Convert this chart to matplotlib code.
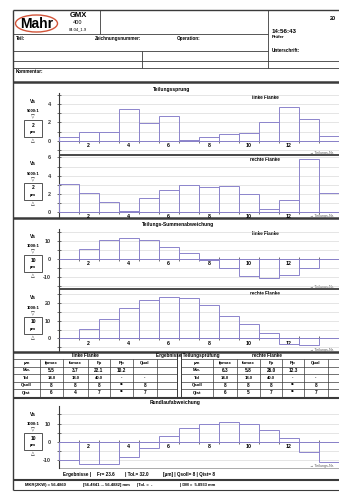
import numpy as np
import matplotlib
matplotlib.use("Agg")
import matplotlib.pyplot as plt
from matplotlib.patches import Ellipse, Rectangle
from matplotlib.ticker import MultipleLocator

plt.rcParams['font.family'] = ['Liberation Sans', 'DejaVu Sans']
plt.rcParams['axes.unicode_minus'] = False

# ---------------------------------------------------------------- data
teeth = np.arange(1, 15)
# Teilungssprung fu [um]
jump_left = [0.4, 0.9, 0.9, 3.5, 1.9, 2.7, 0.1, 0.45, 0.7, 0.8, 2.0, 3.65, 2.35, 0.55]
jump_right = [3.1, 2.1, 1.1, 0.15, 1.6, 2.45, 3.0, 2.75, 2.9, 1.95, 0.35, 1.35, 5.8, 2.1]
# Teilungs-Summenabweichung [um]
cum_left = [0, 5.4, 10.5, 11.5, 10.5, 6.8, 3.5, -0.5, -5.2, -9.4, -10.7, -8.9, -5.2, 0]
cum_right = [0, 5.1, 11.1, 16.9, 21.5, 23.4, 22.5, 18.7, 12.5, 7.9, 3.0, -3.0, -3.5, 0]
# Rundlaufabweichung [um]
runout = [-10, -12.4, -12, -8.5, -3.3, 3.1, 7.3, 10, 10.9, 9.5, 6.7, 1.8, -5.5, -11]

tab_cols = ["µm", "fpmax", "fumax", "Fp", "Rp", "Qual"]
tab_rows = ["Mw.", "Tol", "Qsoll", "Qist"]
left_vals = [["5.5", "3.7", "22.1", "10.2", ""],
             ["14.0", "18.0", "40.0", "-", "-"],
             ["8", "8", "8", "**", "8"],
             ["6", "4", "7", "**", "7"]]
right_vals = [["6.3", "5.8", "26.0", "12.3", ""],
              ["14.0", "18.0", "40.0", "-", "-"],
              ["8", "8", "8", "**", "8"],
              ["6", "5", "7", "**", "7"]]

# ---------------------------------------------------------------- page
W, H = 339, 498
PURPLE = '#8c84cc'
GRID = '#d2d2d2'
DARK = '#3a3a3a'

fig = plt.figure(figsize=(W / 100, H / 100), dpi=100)
bg = fig.add_axes([0, 0, 1, 1])
bg.set_xlim(0, W)
bg.set_ylim(H, 0)
bg.axis('off')


def hline(y, x0=13, x1=W, lw=0.6, c=DARK):
    bg.plot([x0, x1], [y, y], color=c, lw=lw, solid_capstyle='butt')


def vline(x, y0, y1, lw=0.6, c=DARK):
    bg.plot([x, x], [y0, y1], color=c, lw=lw, solid_capstyle='butt')


def txt(x, y, s, size=3.3, ha='left', weight='bold', **kw):
    bg.text(x, y, s, fontsize=size, ha=ha, va='center', fontweight=weight, **kw)


# header block
hline(10, lw=1.0)
vline(13, 10, 490, lw=1.0)
vline(100, 10, 34)
vline(268, 10, 68)
hline(34, 13, 268)
hline(51, 13, 268)
hline(61)
hline(68)
vline(142, 51, 68)
hline(82, lw=1.8)

bg.add_patch(Ellipse((36.5, 23.5), 42, 17, fill=False, edgecolor='#d2553a', lw=1.0))
txt(36.5, 24, "Mahr", 10, 'center')
txt(78, 15, "GMX", 5.5, 'center')
txt(78, 22, "400", 4, 'center', 'normal')
txt(78, 29, "04.04_1.9", 3, 'center', 'normal')
txt(272, 31, "14:56:43", 4.5)
txt(272, 37, "Prüfer", 3.2)
txt(330, 18, "20", 4)
txt(16, 38, "Teil:")
txt(95, 38, "Zeichnungsnummer:")
txt(177, 38, "Operation:")
txt(272, 50, "Unterschrift:")
txt(16, 71, "Kommentar:")

# ---------------------------------------------------------------- charts
panels = [
    (93, 155, jump_left, (-1.55, 5.2), 2, 1, "5000:1", "2", "linke Flanke"),
    (155, 218, jump_right, (-0.62, 6.26), 2, 1, "5000:1", "2", "rechte Flanke"),
    (229, 289, cum_left, (-16.7, 16.7), 10, 5, "1000:1", "10", "linke Flanke"),
    (289, 352, cum_right, (-7.6, 27.8), 10, 5, "1000:1", "10", "rechte Flanke"),
    (406, 468, runout, (-14.4, 19.6), 10, 5, "1000:1", "10", None),
]

AX_X0 = 58.5
for top, bot, vals, ylim, major, minor, scale, boxval, flank in panels:
    ax = fig.add_axes([AX_X0 / W, 1 - bot / H, (W - AX_X0) / W, (bot - top) / H])
    ax.set_facecolor('none')
    ax.set_xlim(0.5, 14.3)
    ax.set_ylim(*ylim)
    ax.set_axisbelow(True)
    ax.bar(teeth, vals, width=1.0, fill=False, edgecolor=PURPLE, lw=0.7, zorder=3)
    for s in ['top', 'right']:
        ax.spines[s].set_visible(False)
    ax.spines['bottom'].set_position(('data', 0))
    ax.spines['bottom'].set_color(DARK)
    ax.spines['bottom'].set_linewidth(0.6)
    ax.spines['left'].set_color(DARK)
    ax.spines['left'].set_linewidth(0.8)
    ax.yaxis.set_major_locator(MultipleLocator(major))
    ax.yaxis.set_minor_locator(MultipleLocator(minor))
    ax.yaxis.grid(True, which='both', color=GRID, lw=0.4)
    ax.tick_params(axis='y', which='both', direction='inout', length=2.5, width=0.5,
                   labelsize=4, pad=4, colors=DARK)
    ax.set_xticks(np.arange(2, 13, 2))
    ax.set_xticks(np.arange(0.5, 15, 1), minor=True)
    ax.tick_params(axis='x', which='major', length=0, labelsize=3.8, pad=1.5)
    ax.tick_params(axis='x', which='minor', direction='inout', length=3.5, width=0.5,
                   colors=DARK)
    for lab in ax.get_xticklabels() + ax.get_yticklabels():
        lab.set_fontweight('bold')

    # scale legend on the left
    v = (top + bot) / 2 - 23
    txt(33, v, "Va", 3.5, 'center')
    txt(33, v + 10, scale, 3, 'center')
    txt(33, v + 16, "▽", 3.5, 'center', 'normal')
    bg.add_patch(Rectangle((24, v + 19), 18, 17, fill=False, edgecolor=DARK, lw=0.6))
    txt(33, v + 24, boxval, 3.5, 'center')
    txt(33, v + 31, "µm", 3, 'center')
    txt(33, v + 40, "△", 3.5, 'center', 'normal')

    if flank:
        txt(265, top + 4, flank, 3.3, 'center')
    txt(310, bot - 2, "→ Teilungs-Nr.", 2.6, 'left', 'normal', color='#555555')

txt(172, 89, "Teilungssprung", 3.6, 'center')
txt(178, 224, "Teilungs-Summenabweichung", 3.6, 'center')
txt(175, 402, "Rundlaufabweichung", 3.6, 'center')

hline(155, AX_X0, W, lw=1.3)
hline(218, lw=1.8)
hline(289, AX_X0, W, lw=1.3)
hline(352, lw=1.8)

# ---------------------------------------------------------------- table
row_lines = [359, 366.5, 374, 381.5, 389, 396.5]
left_edges = [13, 40, 63, 88, 110, 133, 157]
right_edges = [181, 213, 237, 260, 282, 304, 328]

txt(85, 355.5, "linke Flanke", 3.3, 'center')
txt(188, 355.5, "Ergebnisse Teilungsprüfung", 3.3, 'center')
txt(267, 355.5, "rechte Flanke", 3.3, 'center')

for y in row_lines:
    hline(y, 13, 177, lw=0.5)
    hline(y, 181, W, lw=0.5)
vline(177, 352, 398, lw=0.7)
vline(181, 352, 398, lw=0.7)

for edges, vals in [(left_edges, left_vals), (right_edges, right_vals)]:
    for x in edges[1:]:
        vline(x, row_lines[0], row_lines[-1], lw=0.5)
    cx = [(a + b) / 2 for a, b in zip(edges[:-1], edges[1:])]
    ymid = [(a + b) / 2 for a, b in zip(row_lines[:-1], row_lines[1:])]
    for c, name in zip(cx, tab_cols):
        txt(c, ymid[0], name, 3.2, 'center')
    for r, (rname, rvals) in enumerate(zip(tab_rows, vals)):
        txt(cx[0], ymid[r + 1], rname, 3.2, 'center')
        for c, val in zip(cx[1:], rvals):
            txt(c, ymid[r + 1], val, 3.0 if r == 1 else 3.4, 'center')

hline(398, lw=1.5)

# ---------------------------------------------------------------- footer rows
hline(468, AX_X0, W, lw=0.5, c='#888888')
txt(63, 474.5, "Ergebnisse |", 3.3)
txt(97, 474.5, "Fr= 23.6", 3.3)
txt(125, 474.5, "| Tol.= 32.0", 3.3)
txt(163, 474.5, "[µm] | Qsoll= 8 | Qist= 8", 3.3)
hline(479.5, lw=1.5)
txt(25, 485, "MKR(2KW) = 56.4860", 3.0)
txt(83, 485, "[56.4841 ... 56.4882] mm", 3.0)
txt(137, 485, "|Tol. =  -", 3.0)
txt(180, 485, "| DM =  5.8933 mm", 3.0)
hline(490, lw=0.8)

fig.savefig("out.png", dpi=100)
